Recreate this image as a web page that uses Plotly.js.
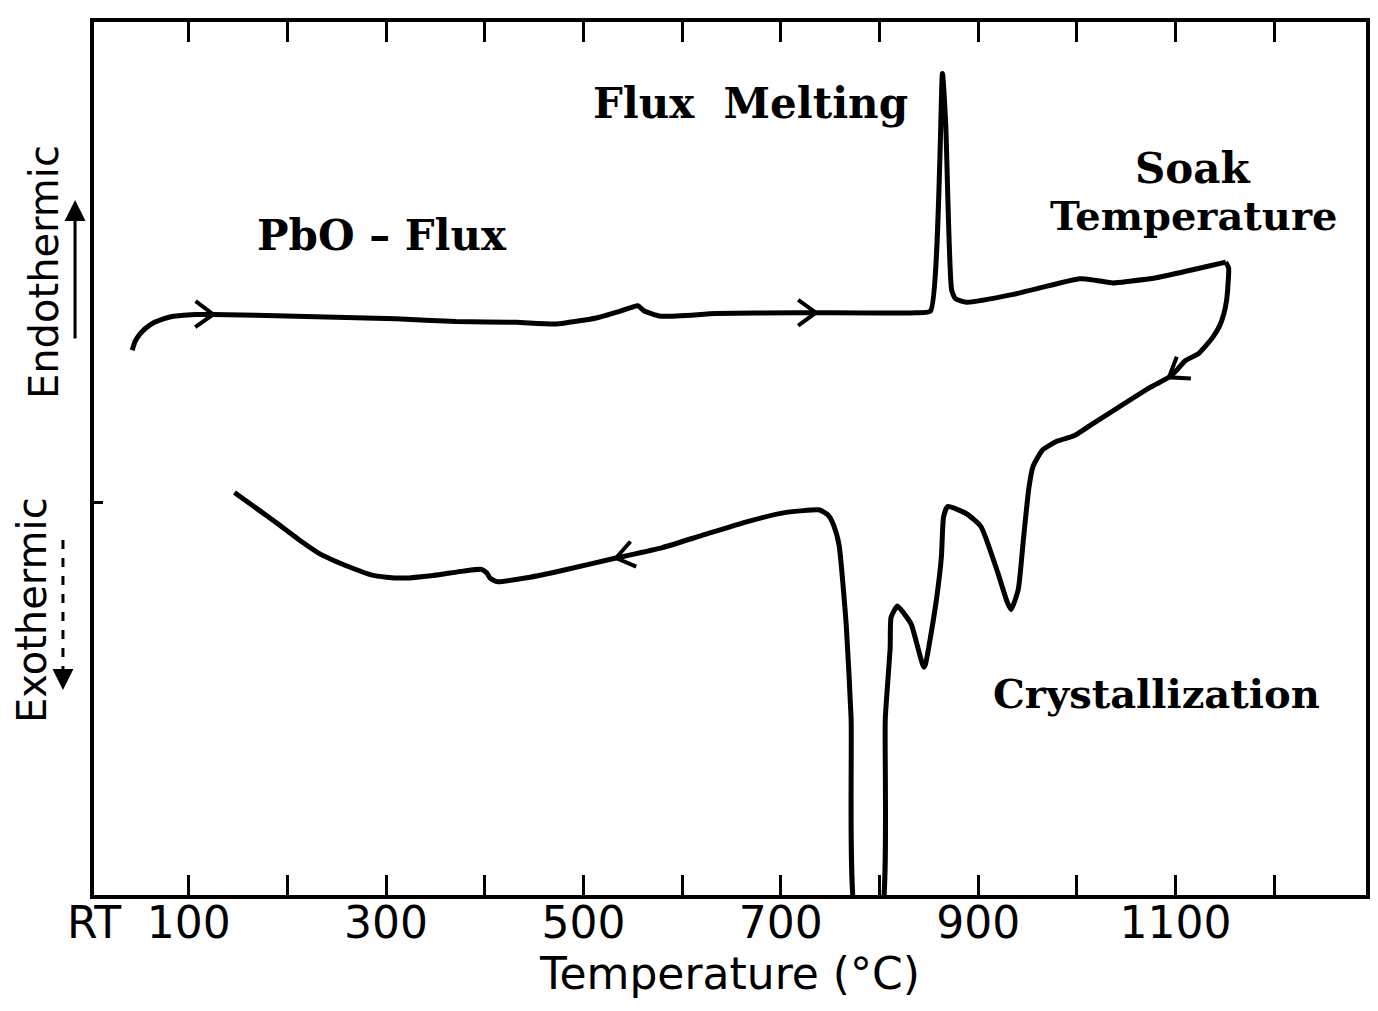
<!DOCTYPE html>
<html>
<head>
<meta charset="utf-8">
<script src="https://cdn.plot.ly/plotly-3.0.1.min.js"></script>
<style>
  html, body { margin: 0; padding: 0; background: #fff; }
  #chart { width: 1378px; height: 1011px; }
</style>
</head>
<body>
<div id="chart"></div>
<script>
// Differential thermal analysis of the PbO flux run:
// heating leg from room temperature up to the soak temperature,
// then the cooling leg back down with its crystallization exotherms.

// Heating leg: temperature (°C) and signal (arbitrary units, endothermic up)
const heatT = [42.7, 45.6, 49.4, 53.4, 57.3, 65.3, 74.3, 84.4, 94.4, 107.6, 124.8, 208.9, 310.2, 370.9, 431.7,
               472.3, 512.8, 537.9, 555.0, 561.6, 578.5, 634.2, 715.3, 735.6, 836.9, 851.7, 863.8, 867.1, 873.1,
               877.0, 888.3, 935.7, 1002.9, 1019.7, 1036.6, 1053.5, 1080.4, 1120.7, 1150.9];
const heatY = [62.4, 63.4, 64.1, 64.6, 65.0, 65.6, 66.0, 66.3, 66.4, 66.5, 66.5, 66.3, 66.0, 65.7, 65.6,
               65.4, 66.1, 66.9, 67.5, 66.9, 66.3, 66.6, 66.7, 66.7, 66.7, 66.9, 94.1, 88.3, 69.3,
               68.3, 67.9, 68.8, 70.6, 70.4, 70.1, 70.3, 70.7, 71.7, 72.5];

// Cooling leg: from the soak temperature back towards room temperature
const coolT = [1150.9, 1153.8, 1153.2, 1151.7, 1149.0, 1144.3, 1137.8, 1130.6, 1123.1, 1109.8, 1101.9, 1093.3,
               1073.4, 1013.6, 997.1, 980.3, 965.4, 955.6, 951.2, 945.8, 940.6, 933.4, 929.6, 919.9, 902.8,
               887.8, 869.0, 864.9, 862.7, 858.0, 852.2, 846.5, 844.8, 832.2, 825.1, 818.1, 811.7, 810.8,
               805.9, 800.6, 777.0, 771.2, 766.3, 759.0, 753.4, 748.1, 739.4, 704.0, 667.2, 620.3, 580.0,
               533.0, 479.4, 445.9, 412.2, 405.4, 401.9, 396.7, 378.2, 347.9, 317.8, 300.4, 283.8, 266.7,
               249.2, 232.5, 215.3, 197.6, 180.8, 163.6, 146.3];
const coolY = [72.5, 71.8, 70.0, 68.1, 66.6, 65.1, 63.9, 62.9, 62.0, 61.2, 60.2, 59.3,
               58.1, 53.8, 52.6, 52.0, 51.0, 49.1, 46.5, 40.7, 35.0, 32.7, 33.5, 36.9, 42.2,
               43.7, 44.5, 43.3, 38.7, 34.1, 29.9, 26.4, 26.1, 31.0, 32.2, 33.1, 31.8, 28.3,
               20.3, -3, -3, 20.3, 30.9, 40.1, 42.4, 43.5, 44.1, 43.8, 42.8, 41.2, 39.8,
               38.6, 37.2, 36.4, 35.9, 36.3, 36.9, 37.3, 37.1, 36.6, 36.3, 36.4, 36.7, 37.4,
               38.2, 39.1, 40.4, 41.9, 43.3, 44.7, 46.1];

// Temperatures on each leg where a direction chevron sits
const heatArrowAt = [124.8, 735.6];
const coolArrowAt = [1093.3, 533.0];

// Temperature axis ticks
const tickVals = [4, 100, 200, 300, 400, 500, 600, 700, 800, 900, 1000, 1100, 1200];
const tickText = ['RT', '100', '', '300', '', '500', '', '700', '', '900', '', '1100', ''];

const X_RANGE = [4, 1293];
const Y_RANGE = [0, 100];
const W = 1378, H = 1011;
const M = { l: 94, r: 12, t: 22, b: 116, pad: 0 };
const pxPerT = (W - M.l - M.r) / (X_RANGE[1] - X_RANGE[0]);
const pxPerY = (H - M.t - M.b) / (Y_RANGE[1] - Y_RANGE[0]);

// Open chevron drawn in pixels at a curve point, pointing along the curve
function chevron(T, Y, at) {
  let i = 0;
  for (let k = 1; k < T.length; k++) if (Math.abs(T[k] - at) < Math.abs(T[i] - at)) i = k;
  const i0 = Math.max(i - 1, 0), i1 = Math.min(i + 1, T.length - 1);
  const dx = (T[i1] - T[i0]) * pxPerT, dy = (Y[i1] - Y[i0]) * pxPerY;
  const a = Math.atan2(dy, dx);
  const L = 22, h = 36 * Math.PI / 180;
  const p1 = [-L * Math.cos(a - h), -L * Math.sin(a - h)];
  const p2 = [-L * Math.cos(a + h), -L * Math.sin(a + h)];
  return {
    type: 'path', xref: 'x', yref: 'y', xsizemode: 'pixel', ysizemode: 'pixel',
    xanchor: T[i], yanchor: Y[i],
    path: `M${p1[0].toFixed(2)},${p1[1].toFixed(2)} L0,0 L${p2[0].toFixed(2)},${p2[1].toFixed(2)}`,
    line: { color: '#000', width: 4 }
  };
}

const curveLine = { color: '#000', width: 5, shape: 'spline', smoothing: 0.5 };
const traces = [
  { x: heatT, y: heatY, type: 'scatter', mode: 'lines', line: curveLine, name: 'Heating', hoverinfo: 'skip' },
  { x: coolT, y: coolY, type: 'scatter', mode: 'lines', line: curveLine, name: 'Cooling', hoverinfo: 'skip' }
];

const shapes = [
  ...heatArrowAt.map(t => chevron(heatT, heatY, t)),
  ...coolArrowAt.map(t => chevron(coolT, coolY, t)),
  // dashed shaft of the exothermic direction arrow
  { type: 'line', xref: 'paper', yref: 'paper', x0: -0.0244, x1: -0.0244, y0: 0.4066, y1: 0.2500,
    line: { color: '#000', width: 3, dash: 'dash' } }
];

const serifBold = { family: 'DejaVu Serif', size: 42, color: '#000', weight: 'bold' };
const serifBoldSm = { family: 'DejaVu Serif', size: 40, color: '#000', weight: 'bold' };
const sans = { family: 'DejaVu Sans', size: 40, color: '#000' };

const annotations = [
  { x: 668.8, y: 90.7, xref: 'x', yref: 'y', text: 'Flux  Melting', showarrow: false, font: serifBold },
  { x: 295.9, y: 75.6, xref: 'x', yref: 'y', text: 'PbO \u2013 Flux', showarrow: false, font: serifBold },
  { x: 1117.7, y: 83.2, xref: 'x', yref: 'y', text: 'Soak', showarrow: false, font: serifBold },
  { x: 1117.7, y: 77.8, xref: 'x', yref: 'y', text: 'Temperature', showarrow: false, font: serifBoldSm },
  { x: 1080.2, y: 23.1, xref: 'x', yref: 'y', text: 'Crystallization', showarrow: false, font: serifBoldSm },
  { x: -0.0393, y: 0.7136, xref: 'paper', yref: 'paper', xanchor: 'center', yanchor: 'middle',
    text: 'Endothermic', textangle: -90, showarrow: false, font: sans },
  { x: -0.0487, y: 0.3265, xref: 'paper', yref: 'paper', xanchor: 'center', yanchor: 'middle',
    text: 'Exothermic', textangle: -90, showarrow: false, font: sans },
  // solid arrow: endothermic is up
  { x: -0.0149, y: 0.796, xref: 'paper', yref: 'paper', text: '', showarrow: true,
    ax: 0, ay: 140, arrowhead: 2, arrowsize: 1.4, arrowwidth: 3, arrowcolor: '#000' },
  // arrowhead at the foot of the dashed exothermic arrow
  { x: -0.0244, y: 0.2348, xref: 'paper', yref: 'paper', text: '', showarrow: true,
    ax: 0, ay: -14, arrowhead: 2, arrowsize: 1.4, arrowwidth: 3, arrowcolor: '#000' }
];

const layout = {
  width: W, height: H, margin: M,
  paper_bgcolor: '#fff', plot_bgcolor: '#fff',
  showlegend: false,
  xaxis: {
    range: X_RANGE, showgrid: false, zeroline: false,
    showline: true, linecolor: '#000', linewidth: 4, mirror: 'ticks',
    ticks: 'inside', ticklen: 20, tickwidth: 3, tickcolor: '#000',
    tickmode: 'array', tickvals: tickVals, ticktext: tickText,
    ticklabelstandoff: -14,
    tickfont: { family: 'DejaVu Sans', size: 44, color: '#000' },
    title: { text: 'Temperature (\u00b0C)', font: { family: 'DejaVu Sans', size: 44, color: '#000' }, standoff: 9 }
  },
  yaxis: {
    range: Y_RANGE, showgrid: false, zeroline: false,
    showline: true, linecolor: '#000', linewidth: 4, mirror: true,
    ticks: 'inside', ticklen: 9, tickwidth: 3, tickcolor: '#000',
    tickmode: 'array', tickvals: [45], showticklabels: false
  },
  shapes: shapes,
  annotations: annotations
};

Plotly.newPlot('chart', traces, layout, { staticPlot: true, displayModeBar: false });
</script>
</body>
</html>
